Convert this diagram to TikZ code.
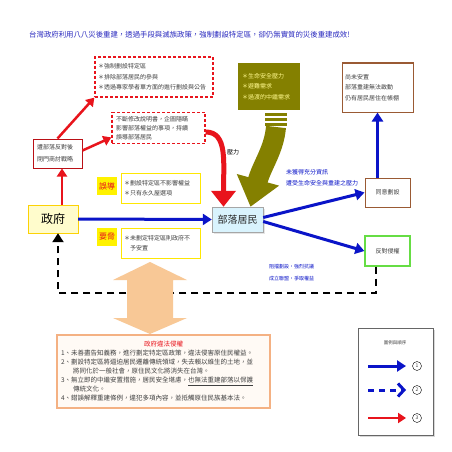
\documentclass[tikz,border=0pt]{standalone}
\usepackage{fontspec}
\setmainfont{Noto Sans CJK TC}
\usetikzlibrary{arrows.meta,shadows}
\definecolor{redc}{HTML}{E8141C}
\definecolor{bluec}{HTML}{0A14C8}
\definecolor{titleblue}{HTML}{2A2ABF}
\definecolor{oliv}{HTML}{848000}
\definecolor{brownc}{HTML}{9A5A34}
\definecolor{greenc}{HTML}{66DD44}
\definecolor{orangec}{HTML}{F8C896}
\definecolor{orangeb}{HTML}{F4B183}
\begin{document}
\begin{tikzpicture}[x=1pt, y=-1pt,
    every node/.style={inner sep=3pt, text=black!75, font=\fontsize{6}{10.5}\selectfont},
    plainbox/.style={draw, line width=1pt, align=left},
    dashbox/.style={draw=redc, line width=1.3pt, dash pattern=on 3pt off 2pt, align=left},
    tagbox/.style={fill=yellow, text=redc, minimum width=20pt, minimum height=18pt, inner sep=0pt, font=\fontsize{8}{9}\selectfont},
    notebox/.style={draw=yellow!90!orange, line width=0.8pt, align=left, text width=73pt, minimum height=30pt},
    redarrow/.style={draw=redc, line width=2.5pt, -{Triangle[length=8pt,width=10pt]}},
    bluearrow/.style={draw=bluec, line width=3pt, -{Triangle[length=9pt,width=11pt]}},
    bluenote/.style={text=bluec, align=left, anchor=west, inner sep=0pt}]
    \useasboundingbox (0,0) rectangle (452,452);
    \fill[white] (0,0) rectangle (452,452);
    \node[anchor=west, text=titleblue, inner sep=0pt, font=\fontsize{7.4}{8}\selectfont] (title) at (29,35)
        {台灣政府利用八八災後重建，透過手段與滅族政策，強制劃設特定區，卻仍無實質的災後重建成效!};
    % boxes
    \node[dashbox, text width=112pt, minimum height=40pt] (zone) at (154,77)
        {＊強制劃設特定區\\＊排除部落居民的參與\\＊透過專家學者單方面的進行劃設與公告};
    \node[dashbox, text width=85pt, minimum height=30pt, inner sep=4pt, font=\fontsize{6}{9}\selectfont] (revise) at (158.5,128)
        {不斷修改說明書，企圖隱瞞\\影響部落權益的事項，持續\\誤導部落居民};
    \node[fill=oliv, text=yellow!45!white, align=left, text width=54pt, minimum height=47pt, inner sep=4pt] (need) at (269,86.5)
        {＊生命安全壓力\\＊避難需求\\＊過渡的中繼需求};
    \node[plainbox, draw=brownc, text width=65pt, minimum height=49pt] (unsettled) at (377.5,87.5)
        {尚未安置\\部落重建無法啟動\\仍有居民居住在帳棚};
    \node[plainbox, draw=redc!80!black, text width=41pt, minimum height=29pt, inner sep=4pt, font=\fontsize{6}{12}\selectfont] (closed) at (57.5,153.5)
        {遭部落反對後\\閉門商討戰略};
    \node[tagbox] (mislead) at (107,186) {誤導};
    \node[notebox] (misleadtxt) at (160.5,188) {＊劃設特定區不影響權益\\＊只有永久屋選項};
    \node[tagbox] (threat) at (107,236.5) {要脅};
    \node[notebox] (threattxt) at (160.5,243) {＊未劃定特定區則政府不\\\phantom{＊}予安置};
    \node[draw=yellow!70!orange, fill=yellow!20, text=black, minimum width=50pt, minimum height=28pt, font=\fontsize{12}{13}\selectfont] (gov) at (53,219) {政府};
    \node[draw=gray!70, fill=cyan!15, text=black!85, minimum width=51pt, minimum height=25pt, font=\fontsize{10}{11}\selectfont,
        drop shadow={shadow xshift=1.5pt, shadow yshift=-1.5pt, fill=gray!40}] (people) at (237.5,219.5) {部落居民};
    \node[plainbox, draw=brownc, minimum width=45pt, minimum height=29pt] (agree) at (387.5,192.5) {同意劃設};
    \node[plainbox, draw=greenc, line width=1.3pt, minimum width=45pt, minimum height=30pt] (oppose) at (387.5,251) {反對侵權};
    \node[bluenote, font=\fontsize{6}{11}\selectfont] (info) at (286,177.5) {未獲得充分資訊\\遭受生命安全與重建之壓力};
    \node[bluenote, font=\fontsize{5}{12}\selectfont] (protest) at (269,273) {阻擋劃設，強烈抗議\\成立聯盟，爭取權益};
    \node[text=black] (press) at (233,152) {壓力};
    % red connectors
    \coordinate (redx) at (62,0);
    \draw[redarrow] (redx |- gov.north) -- (redx |- closed.south);
    \draw[redarrow] (closed.north) -- (zone.south west);
    \draw[redarrow] ([yshift=3pt]closed.east) -- ([yshift=7pt]revise.south west);
    \draw[draw=redc, line width=5pt, -{Triangle[length=16pt,width=24pt]}]
        ([yshift=-4pt]revise.east) .. controls +(22,0) and +(0,-45) .. ([xshift=-14pt]people.north);
    % olive arrow
    \foreach \y in {113,118,123}
        \fill[oliv] (265,\y) rectangle (287,\y+3);
    \draw[draw=oliv, line width=20pt, -{Triangle[length=28pt,width=42pt]}]
        (276,127) .. controls (274,150) and (262,165) .. ([xshift=13pt]people.north);
    % blue connectors
    \draw[bluearrow] (gov.east) -- (people.west);
    \draw[bluearrow] ([yshift=2pt]people.east) -- (agree.west);
    \draw[bluearrow] ([yshift=-2pt]people.east) -- (oppose.west);
    \draw[bluearrow] (agree.north -| unsettled.south) -- (unsettled.south);
    % dashed return
    \coordinate (loopR) at (376,293);
    \coordinate (loopL) at (58,293);
    \draw[line width=2.5pt, dash pattern=on 7pt off 5pt, -{Triangle[length=9pt,width=11pt]}]
        (oppose.south -| loopR) -- (loopR) -- (loopL) -- (loopL |- gov.south);
    % orange double arrow
    \fill[orangec] (150,262) -- (187,280) -- (173,280) -- (173,318) -- (187,318) -- (150,334)
        -- (113,318) -- (127,318) -- (127,280) -- (113,280) -- cycle;
    \node[draw=orangeb, line width=1.5pt, fill=orange!4, align=left, text width=205pt, minimum height=73pt,
        inner sep=4pt, font=\fontsize{6.5}{9}\selectfont] (illegal) at (163.5,371.5)
        {\makebox[205pt][c]{\textcolor{redc}{政府違法侵權}}\\
         1、未善盡告知義務，進行劃定特定區政策，違法侵害原住民權益。\\
         2、劃設特定區將逼迫居民遷離傳統領域，失去賴以維生的土地，並\\
         \hspace*{12pt}將同化於一般社會，原住民文化將消失在台灣。\\
         3、無立即的中繼安置措施，居民安全堪慮，\underline{也無法重建部落以保護}\\
         \hspace*{12pt}傳統文化。\\
         4、錯誤解釋重建條例，違犯多項內容，並抵觸原住民族基本法。};
    % legend
    \node[draw=gray!80!black, line width=0.6pt, fill=white, minimum width=75pt, minimum height=107pt,
        drop shadow={shadow xshift=2pt, shadow yshift=-2pt, fill=gray!60}] (legend) at (395.5,381.5) {};
    \node[font=\fontsize{4.5}{5}\selectfont] (legendtitle) at (395,343) {圖例與順序};
    \foreach \n/\y in {1/366,2/390,3/418} {
        \coordinate (la\n) at (368,\y);
        \coordinate (lb\n) at (406,\y);
        \node[draw, circle, line width=0.4pt, minimum size=9pt, inner sep=0pt, font=\fontsize{5}{5}\selectfont] (num\n) at (417,\y) {\n};
    }
    \draw[bluearrow] (la1) -- (lb1);
    \draw[draw=bluec, line width=3pt, dash pattern=on 6pt off 5pt, -{Straight Barb[length=6pt,width=13pt]}] (la2) -- (lb2);
    \draw[redarrow] (la3) -- (lb3);
\end{tikzpicture}
\end{document}
